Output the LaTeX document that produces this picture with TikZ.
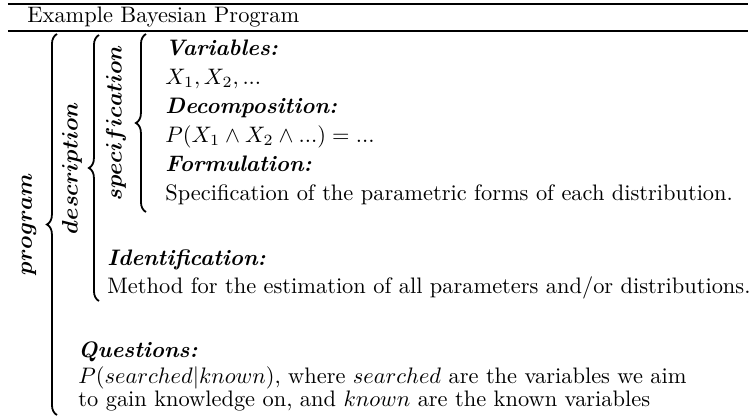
\documentclass[tikz,border=0pt]{standalone}
\usepackage{amsmath,amssymb}
\usepackage{tikz}
\usetikzlibrary{decorations.pathreplacing}

\begin{document}
\begin{tikzpicture}[x=0.4464pt, y=-0.4464pt, every node/.style={inner sep=0pt, anchor=base west},
  brc/.style={decorate, decoration={brace, amplitude=4.5pt}, line width=0.8pt},
  lbl/.style={rotate=90, anchor=center},
  hd/.style={font=\bfseries\itshape}]
\useasboundingbox (0,0) rectangle (754,416);
% table rules and title
\draw[line width=0.5pt] (8,4) -- (748,4);
\draw[line width=0.5pt] (8,31) -- (748,31);
\node (title) at (27,22) {Example Bayesian Program};
% brace end points
\coordinate (prgt) at (57,34); \coordinate (prgb) at (57,415);
\coordinate (dsct) at (99,35); \coordinate (dscb) at (99,301);
\coordinate (spct) at (146,34); \coordinate (spcb) at (146,212);
\draw[brc] (prgb) -- (prgt);
\draw[brc] (dscb) -- (dsct);
\draw[brc] (spcb) -- (spct);
\node[lbl] (prg) at (29,224) {$\boldsymbol{program}$};
\node[lbl] (dsc) at (72,168) {$\boldsymbol{description}$};
\node[lbl] (spc) at (116,123) {$\boldsymbol{specification}$};
% specification
\node[hd] (var) at (165,55) {Variables:};
\node (varx) at (165,84) {$X_1, X_2, ...$};
\node[hd] (dec) at (165,113) {Decomposition:};
\node (decx) at (165,142) {$P(X_1 \wedge X_2 \wedge ...) = ...$};
\node[hd] (frm) at (165,171) {Formulation:};
\node (frmx) at (165,200) {Specification of the parametric forms of each distribution.};
% identification
\node[hd] (idf) at (107,265) {Identification:};
\node (idfx) at (107,293) {Method for the estimation of all parameters and/or distributions.};
% questions
\node[hd] (qst) at (78,357) {Questions:};
\node (qsta) at (78,383) {$P(searched|known)$, where $searched$ are the variables we aim};
\node (qstb) at (78,406) {to gain knowledge on, and $known$ are the known variables};
\end{tikzpicture}
\end{document}
